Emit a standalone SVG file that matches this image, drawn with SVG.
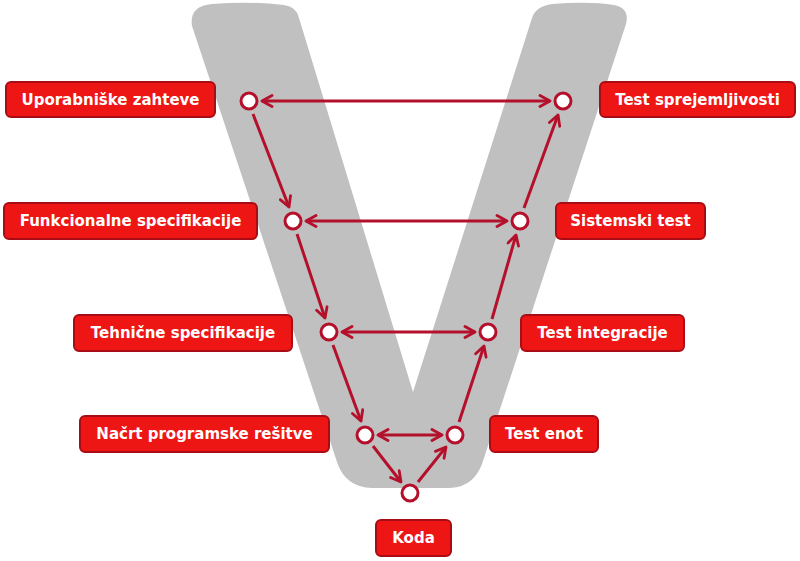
<svg xmlns="http://www.w3.org/2000/svg" width="800" height="561" viewBox="0 0 800 561">
  <style>
    .box rect { fill: #ee1515; stroke: #a90c15; stroke-width: 2; }
    .box text { fill: #ffffff; font-family: "DejaVu Sans", Verdana, sans-serif; font-weight: bold; font-size: 15px; text-anchor: middle; dominant-baseline: central; }
    .pt { fill: #ffffff; stroke: #b5102b; stroke-width: 3; }
    .link { stroke: #b5102b; stroke-width: 3; fill: none; }
  </style>
  <defs>
    <marker id="head" viewBox="0 0 14 14" refX="12" refY="7" markerWidth="14" markerHeight="14" markerUnits="userSpaceOnUse" orient="auto-start-reverse">
      <path d="M2,1.5 L12,7 L2,12.5" fill="none" stroke="#b5102b" stroke-width="2.8" stroke-linecap="round" stroke-linejoin="round"/>
    </marker>
  </defs>

  <!-- big grey V backdrop -->
  <path id="v-shape" fill="#c0c0c0" d="M192,26 Q189,6 212,4 Q250,1 284,5 Q297,7 299,18 L413,392 L532,18 Q536,6 552,4 Q590,1 614,5 Q630,8 626,24 L484,458 Q476,487 450,488 L372,488 Q345,487 337,462 Z"/>

  <!-- connectors -->
  <g id="connectors" class="link">
    <line x1="262" y1="101" x2="550" y2="101" marker-start="url(#head)" marker-end="url(#head)"/>
    <line x1="306" y1="221" x2="507" y2="221" marker-start="url(#head)" marker-end="url(#head)"/>
    <line x1="342" y1="332" x2="475" y2="332" marker-start="url(#head)" marker-end="url(#head)"/>
    <line x1="378" y1="435" x2="442" y2="435" marker-start="url(#head)" marker-end="url(#head)"/>
    <line x1="253" y1="114" x2="289" y2="207" marker-end="url(#head)"/>
    <line x1="297" y1="234" x2="325" y2="318" marker-end="url(#head)"/>
    <line x1="333" y1="345" x2="361" y2="421" marker-end="url(#head)"/>
    <line x1="373" y1="446" x2="401" y2="482" marker-end="url(#head)"/>
    <line x1="418" y1="482" x2="446" y2="447" marker-end="url(#head)"/>
    <line x1="459" y1="422" x2="484" y2="346" marker-end="url(#head)"/>
    <line x1="492" y1="319" x2="516" y2="235" marker-end="url(#head)"/>
    <line x1="524" y1="208" x2="558" y2="115" marker-end="url(#head)"/>
  </g>

  <!-- stage points -->
  <g id="points">
    <circle class="pt" cx="249" cy="101" r="8"/>
    <circle class="pt" cx="563" cy="101" r="8"/>
    <circle class="pt" cx="293" cy="221" r="8"/>
    <circle class="pt" cx="520" cy="221" r="8"/>
    <circle class="pt" cx="329" cy="332" r="8"/>
    <circle class="pt" cx="488" cy="332" r="8"/>
    <circle class="pt" cx="365" cy="435" r="8"/>
    <circle class="pt" cx="455" cy="435" r="8"/>
    <circle class="pt" cx="410" cy="493" r="8"/>
  </g>

  <!-- labels -->
  <g id="uporabniske-zahteve" class="box">
    <rect x="6" y="82" width="209" height="35" rx="5"/>
    <text x="110.5" y="99.5">Uporabniške zahteve</text>
  </g>
  <g id="test-sprejemljivosti" class="box">
    <rect x="600" y="82" width="195" height="35" rx="5"/>
    <text x="697.5" y="99.5">Test sprejemljivosti</text>
  </g>
  <g id="funkcionalne-specifikacije" class="box">
    <rect x="4" y="203" width="253" height="36" rx="5"/>
    <text x="130.5" y="221">Funkcionalne specifikacije</text>
  </g>
  <g id="sistemski-test" class="box">
    <rect x="556" y="203" width="149" height="36" rx="5"/>
    <text x="630.5" y="221">Sistemski test</text>
  </g>
  <g id="tehnicne-specifikacije" class="box">
    <rect x="74" y="315" width="218" height="36" rx="5"/>
    <text x="183" y="333">Tehnične specifikacije</text>
  </g>
  <g id="test-integracije" class="box">
    <rect x="521" y="315" width="163" height="36" rx="5"/>
    <text x="602.5" y="333">Test integracije</text>
  </g>
  <g id="nacrt-programske-resitve" class="box">
    <rect x="80" y="416" width="249" height="36" rx="5"/>
    <text x="204.5" y="434">Načrt programske rešitve</text>
  </g>
  <g id="test-enot" class="box">
    <rect x="490" y="416" width="108" height="36" rx="5"/>
    <text x="544" y="434">Test enot</text>
  </g>
  <g id="koda" class="box">
    <rect x="376" y="520" width="75" height="36" rx="5"/>
    <text x="413.5" y="538">Koda</text>
  </g>
</svg>
